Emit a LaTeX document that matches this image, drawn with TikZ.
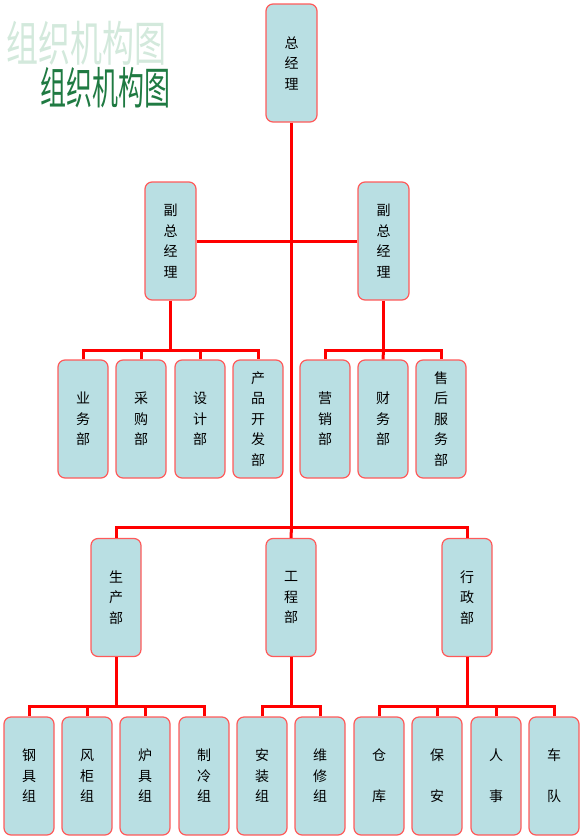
\documentclass[tikz,border=0pt]{standalone}
\usepackage{fontspec}
\newfontfamily\cjk{Noto Sans CJK SC}
\usetikzlibrary{positioning}
\definecolor{boxfill}{HTML}{B9DFE3}
\definecolor{boxline}{HTML}{FF5A5A}
\definecolor{titlelight}{HTML}{D3E9DC}
\definecolor{titledark}{HTML}{1F7A42}

\begin{document}
\begin{tikzpicture}[x=1pt, y=-1pt,
  box/.style={draw=boxline, line width=1.2pt, fill=boxfill, rounded corners=7pt,
    minimum width=50pt, minimum height=118pt, inner sep=0pt, align=center,
    font=\cjk\fontsize{14}{20.5}\selectfont},
  link/.style={red, line width=3pt}]
% Page frame, y grows downwards
\useasboundingbox (0,0) rectangle (583,838);

% Title, a pale copy behind a dark one
\node[text=titlelight, font=\cjk\fontsize{32}{32}\selectfont, yscale=1.5, inner sep=0pt] (titleback) at (86.5,43) {组织机构图};
\node[text=titledark, font=\cjk\fontsize{26}{26}\selectfont, yscale=1.7, inner sep=0pt] (titlefront) at (105,88) {组织机构图};

% Top level
\node[box, minimum width=51pt] (gm) at (291.5,63) {总\\经\\理};
\node[box, minimum width=51pt] (vpl) at (170.5,241) {副\\总\\经\\理};
\node[box, minimum width=51pt] (vpr) at (383.5,241) {副\\总\\经\\理};

% Departments under the two vice managers
\node[box] (yw) at (83,419) {业\\务\\部};
\node[box] (cg) at (141,419) {采\\购\\部};
\node[box] (sj) at (200,419) {设\\计\\部};
\node[box] (cpkf) at (258,419) {产\\品\\开\\发\\部};
\node[box] (yx) at (325,419) {营\\销\\部};
\node[box] (cw) at (383,419) {财\\务\\部};
\node[box] (sh) at (441,419) {售\\后\\服\\务\\部};

% Departments under the general manager
\node[box] (sc) at (116,597.5) {生\\产\\部};
\node[box] (gc) at (291,597.5) {工\\程\\部};
\node[box] (xz) at (467,597.5) {行\\政\\部};

% Groups
\node[box] (gj) at (29,776) {钢\\具\\组};
\node[box] (fg) at (87,776) {风\\柜\\组};
\node[box] (lj) at (145,776) {炉\\具\\组};
\node[box] (zl) at (204,776) {制\\冷\\组};
\node[box] (az) at (262,776) {安\\装\\组};
\node[box] (wx) at (320,776) {维\\修\\组};
\node[box] (ck) at (379,776) {仓\\\\库};
\node[box] (ba) at (437,776) {保\\\\安};
\node[box] (rs) at (496,776) {人\\\\事};
\node[box] (cd) at (554,776) {车\\\\队};

% Bus points
\coordinate (trunk) at (gm.south |- 0,527);
\coordinate (busl) at (vpl.south |- 0,350);
\coordinate (busr) at (vpr.south |- 0,350);
\coordinate (busa) at (sc.south |- 0,706);
\coordinate (busb) at (gc.south |- 0,706);
\coordinate (busc) at (xz.south |- 0,706);

% Connectors
\draw[link] (gm.south) -- (trunk);
\draw[link] (vpl.east) -- (vpr.west);
\draw[link] (sc.north) |- (trunk) -| (xz.north);
\draw[link] (gc.north) -- (trunk);

\draw[link] (vpl.south) -- (busl);
\draw[link] (yw.north) |- (busl) -| (cpkf.north);
\draw[link] (cg.north) -- (cg.north |- busl);
\draw[link] (sj.north) -- (sj.north |- busl);

\draw[link] (vpr.south) -- (busr);
\draw[link] (yx.north) |- (busr) -| (sh.north);
\draw[link] (cw.north) -- (busr);

\draw[link] (sc.south) -- (busa);
\draw[link] (gj.north) |- (busa) -| (zl.north);
\draw[link] (fg.north) -- (fg.north |- busa);
\draw[link] (lj.north) -- (lj.north |- busa);

\draw[link] (gc.south) -- (busb);
\draw[link] (az.north) |- (busb) -| (wx.north);

\draw[link] (xz.south) -- (busc);
\draw[link] (ck.north) |- (busc) -| (cd.north);
\draw[link] (ba.north) -- (ba.north |- busc);
\draw[link] (rs.north) -- (rs.north |- busc);
\end{tikzpicture}
\end{document}
